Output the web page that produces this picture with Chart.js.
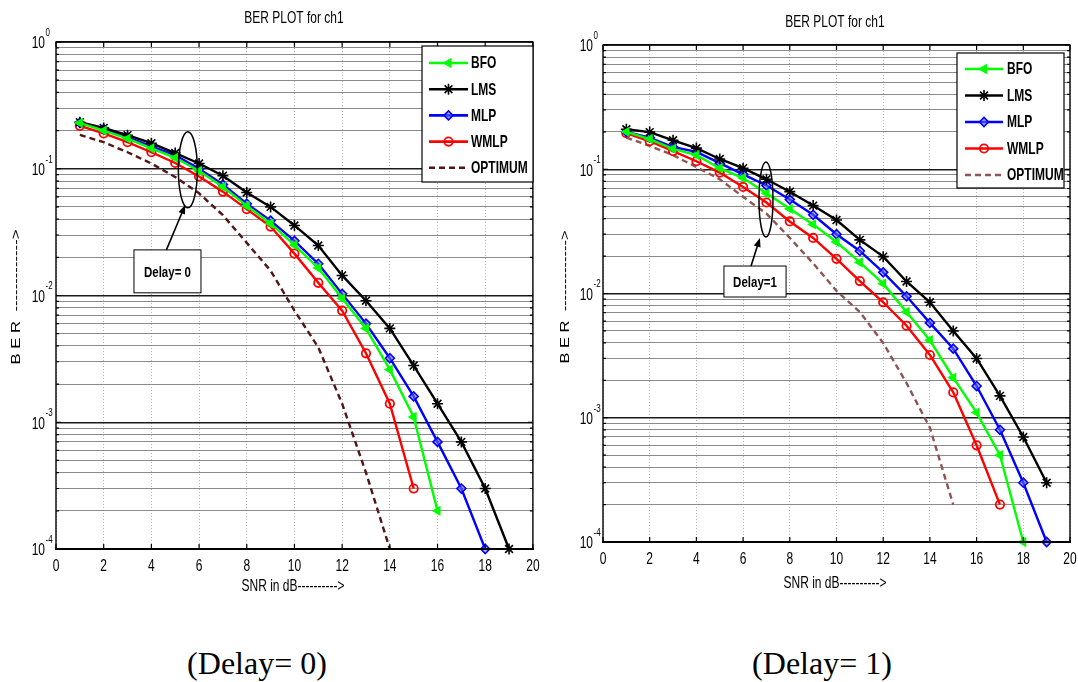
<!DOCTYPE html>
<html><head><meta charset="utf-8">
<script src="https://cdn.jsdelivr.net/npm/chart.js@4/dist/chart.umd.min.js"></script>
<style>
body{margin:0;background:#fff;width:1078px;height:682px;overflow:hidden;position:relative}
canvas{position:absolute;top:0}
#c0{left:0}
#c1{left:540px}
.cap{position:absolute;top:643px;width:300px;text-align:center;font:32px "Liberation Serif","Times New Roman",serif;line-height:40px;color:#000}
</style></head>
<body>
<canvas id="c0" width="540" height="620"></canvas>
<canvas id="c1" width="538" height="620"></canvas>
<div class="cap" style="left:107px">(Delay= 0)</div>
<div class="cap" style="left:672px">(Delay= 1)</div>
<script>
// ---------------- data ----------------
const snr = [1,2,3,4,5,6,7,8,9,10,11,12,13,14,15,16,17,18,19];
const xTickValues = [0,2,4,6,8,10,12,14,16,18,20];
const yDecades = [1,0.1,0.01,0.001,0.0001];
const yDecadeExp = ['0','-1','-2','-3','-4'];
const seriesNames = ['BFO','LMS','MLP','WMLP','OPTIMUM'];
const titleText = 'BER PLOT for ch1';
const xTitle = 'SNR in dB---------->';
const yTitle = 'B E R  ------------->';

// Delay = 0
const bfo0  = [0.23,0.20,0.173,0.145,0.122,0.096,0.072,0.051,0.037,0.025,0.0165,0.0095,0.0055,0.0026,0.0011,0.0002];
const lms0  = [0.233,0.21,0.184,0.159,0.133,0.110,0.088,0.065,0.050,0.0357,0.0248,0.0144,0.0091,0.0055,0.0028,0.0014,0.0007,0.0003,0.0001];
const mlp0  = [0.23,0.205,0.178,0.15,0.128,0.1,0.075,0.053,0.039,0.027,0.0178,0.0103,0.006,0.0032,0.0016,0.0007,0.0003,0.0001];
const wmlp0 = [0.218,0.19,0.162,0.135,0.111,0.087,0.066,0.048,0.035,0.0214,0.0126,0.0076,0.0035,0.0014,0.0003];
const opt0  = [0.185,0.162,0.135,0.11,0.086,0.064,0.043,0.026,0.0157,0.0076,0.0039,0.0014,0.0004,0.0001];

// Delay = 1
const bfo1  = [0.2,0.175,0.146,0.13,0.102,0.085,0.064,0.048,0.036,0.026,0.0178,0.012,0.0071,0.0042,0.0021,0.0011,0.0005,0.0001];
const lms1  = [0.21,0.199,0.171,0.148,0.121,0.102,0.083,0.066,0.051,0.039,0.027,0.0198,0.0125,0.0085,0.005,0.003,0.0015,0.0007,0.0003];
const mlp1  = [0.2,0.18,0.151,0.138,0.112,0.091,0.074,0.057,0.043,0.030,0.022,0.0148,0.0095,0.0058,0.0036,0.0018,0.0008,0.0003,0.0001];
const wmlp1 = [0.195,0.168,0.14,0.116,0.094,0.072,0.054,0.038,0.028,0.019,0.0126,0.0085,0.0055,0.0032,0.0016,0.0006,0.0002];
const opt1  = [0.18,0.154,0.13,0.104,0.083,0.06,0.044,0.028,0.0175,0.0105,0.0071,0.004,0.0019,0.00083,0.0002];

// ---------------- styling / layout ----------------
const FONT = '"Liberation Sans", Arial, Helvetica, sans-serif';
const SY = 1.35;

function pts(arr){ return arr.map((v,i)=>({x:snr[i], y:v})); }

function makeDatasets(vals, optColor){
  const styles = [
    {c:'#00ff00', ps:'triangle', rot:270, r:4.5, bg:'#00ff00', bw:1.5},
    {c:'#000000', ps:'star', rot:0, r:5.5, bg:'#000000', bw:1.6},
    {c:'#0000ff', ps:'rectRot', rot:0, r:4.5, bg:'rgba(110,110,255,0.55)', bw:1.6},
    {c:'#ff0000', ps:'circle', rot:0, r:4.2, bg:'rgba(255,255,255,0)', bw:1.8},
    {c:optColor, ps:false, rot:0, r:0, bg:optColor, bw:0, dash:[6,4]}
  ];
  return vals.map((arr,i)=>{
    const s = styles[i];
    return {
      label: seriesNames[i], data: pts(arr),
      borderColor: s.c, backgroundColor: s.bg, borderWidth: 2.4,
      borderDash: s.dash || [], tension: 0, fill: false, clip: false,
      pointStyle: s.ps, pointRotation: s.rot, pointRadius: s.r,
      pointBorderColor: s.c, pointBackgroundColor: s.bg, pointBorderWidth: s.bw
    };
  });
}

function isMajor(v){ const l = Math.log10(v); return Math.abs(l - Math.round(l)) < 1e-6; }

function txt(ctx, s, x, y, o){
  ctx.save();
  ctx.font = o.font; ctx.fillStyle = o.color || '#000';
  ctx.textAlign = o.align || 'center'; ctx.textBaseline = o.base || 'middle';
  ctx.translate(x, y);
  if (o.rot) ctx.rotate(o.rot);
  ctx.scale(o.sx || 1, o.sy || 1);
  ctx.fillText(s, 0, 0);
  ctx.restore();
}

const decoPlugin = {
  id: 'deco',
  afterDraw(chart){
    const L = chart.options.plugins.deco;
    const ctx = chart.ctx, a = chart.chartArea;
    const xs = chart.scales.x, ys = chart.scales.y;
    ctx.save();
    // axis box and inward ticks
    ctx.strokeStyle = '#000'; ctx.lineWidth = 1.4;
    ctx.strokeRect(a.left, a.top, a.right - a.left, a.bottom - a.top);
    ctx.lineWidth = 2.2;
    ctx.beginPath(); ctx.moveTo(a.left - 1, a.bottom); ctx.lineTo(a.right + 1, a.bottom); ctx.stroke();
    ctx.lineWidth = 1.2;
    ctx.beginPath();
    xTickValues.forEach(v=>{
      const px = xs.getPixelForValue(v);
      ctx.moveTo(px, a.bottom); ctx.lineTo(px, a.bottom - 5);
      ctx.moveTo(px, a.top); ctx.lineTo(px, a.top + 5);
    });
    yDecades.forEach(d=>{
      for (let k=1;k<=9;k++){
        const v = d*k; if (v>1.0000001) continue;
        const py = ys.getPixelForValue(v), len = k===1 ? 5 : 3;
        ctx.moveTo(a.left, py); ctx.lineTo(a.left + len, py);
        ctx.moveTo(a.right, py); ctx.lineTo(a.right - len, py);
      }
    });
    ctx.stroke();

    // title, axis titles
    txt(ctx, titleText, L.title[0], L.title[1], {font:'12px '+FONT, sy:SY});
    txt(ctx, xTitle, L.xlab[0], L.xlab[1], {font:'12px '+FONT, sy:SY});
    ctx.save(); ctx.font = '12px '+FONT;
    const yw = ctx.measureText(yTitle).width; ctx.restore();
    txt(ctx, yTitle, L.ylab[0], L.ylab[1], {font:'12px '+FONT, rot:-Math.PI/2, sx:L.ylabLen/yw});

    // x tick labels
    xTickValues.forEach(v=>{
      txt(ctx, String(v), xs.getPixelForValue(v), L.xtickY, {font:'12px '+FONT, sy:SY});
    });
    // y tick labels 10^n
    yDecades.forEach((d,i)=>{
      const py = ys.getPixelForValue(d);
      txt(ctx, '10', L.ytickR, py + 2, {font:'12px '+FONT, sy:SY, align:'right'});
      txt(ctx, yDecadeExp[i], L.ytickR + 0.5, py - 9, {font:'8px '+FONT, sy:1.3, align:'left'});
    });

    // legend
    const g = L.leg;
    ctx.fillStyle = '#fff'; ctx.fillRect(g.x0, g.y0, g.x1-g.x0, g.y1-g.y0);
    ctx.strokeStyle = '#000'; ctx.lineWidth = 1.2; ctx.strokeRect(g.x0, g.y0, g.x1-g.x0, g.y1-g.y0);
    chart.data.datasets.forEach((ds,i)=>{
      const y = g.ey0 + i*g.edy;
      ctx.save();
      ctx.strokeStyle = ds.borderColor; ctx.lineWidth = 2.6;
      ctx.setLineDash(ds.borderDash || []);
      ctx.beginPath(); ctx.moveTo(g.lx0, y); ctx.lineTo(g.lx1, y); ctx.stroke();
      ctx.setLineDash([]);
      if (ds.pointStyle){
        ctx.strokeStyle = ds.pointBorderColor; ctx.fillStyle = ds.pointBackgroundColor;
        ctx.lineWidth = ds.pointBorderWidth;
        Chart.helpers.drawPoint(ctx, {pointStyle: ds.pointStyle, rotation: ds.pointRotation, radius: ds.pointRadius, borderWidth: ds.pointBorderWidth}, (g.lx0+g.lx1)/2, y);
      }
      ctx.restore();
      txt(ctx, ds.label, g.tx, y + 1, {font:'bold 12px '+FONT, sy:SY, align:'left'});
    });

    // annotation: ellipse, arrow, text box
    const n = L.ann;
    ctx.strokeStyle = '#000'; ctx.lineWidth = 1.5;
    ctx.beginPath();
    ctx.ellipse(xs.getPixelForValue(n.ell[0]), ys.getPixelForValue(n.ell[1]), n.ell[2], n.ell[3], 0, 0, Math.PI*2);
    ctx.stroke();
    const bx0 = xs.getPixelForValue(n.box[0]), bx1 = xs.getPixelForValue(n.box[1]);
    const by0 = ys.getPixelForValue(n.box[2]), by1 = ys.getPixelForValue(n.box[3]);
    ctx.fillStyle = '#fff'; ctx.fillRect(bx0, by0, bx1-bx0, by1-by0);
    ctx.lineWidth = 1; ctx.strokeRect(bx0, by0, bx1-bx0, by1-by0);
    txt(ctx, n.text, (bx0+bx1)/2, (by0+by1)/2 + 1, {font:'bold 11.5px '+FONT, sy:SY});
    const tx0 = xs.getPixelForValue(n.arrow[0]), ty0 = ys.getPixelForValue(n.arrow[1]);
    const tx1 = xs.getPixelForValue(n.arrow[2]), ty1 = ys.getPixelForValue(n.arrow[3]);
    const ang = Math.atan2(ty1-ty0, tx1-tx0);
    ctx.lineWidth = 1.6;
    ctx.beginPath(); ctx.moveTo(tx0, ty0); ctx.lineTo(tx1 - 6*Math.cos(ang), ty1 - 6*Math.sin(ang)); ctx.stroke();
    ctx.fillStyle = '#000';
    ctx.beginPath();
    ctx.moveTo(tx1, ty1);
    ctx.lineTo(tx1 - 9*Math.cos(ang) + 3.5*Math.sin(ang), ty1 - 9*Math.sin(ang) - 3.5*Math.cos(ang));
    ctx.lineTo(tx1 - 9*Math.cos(ang) - 3.5*Math.sin(ang), ty1 - 9*Math.sin(ang) + 3.5*Math.cos(ang));
    ctx.closePath(); ctx.fill();
    ctx.restore();
  }
};

function makeChart(id, vals, optColor, L){
  return new Chart(document.getElementById(id), {
    type: 'line',
    data: { datasets: makeDatasets(vals, optColor) },
    plugins: [decoPlugin],
    options: {
      responsive: false, animation: false, devicePixelRatio: 1,
      layout: { padding: { top: L.top, right: L.right, left: 0, bottom: 0 } },
      plugins: { legend: {display:false}, title: {display:false}, tooltip: {enabled:false}, deco: L },
      scales: {
        x: {
          type: 'linear', min: 0, max: 20,
          afterBuildTicks: s => { s.ticks = xTickValues.map(v=>({value:v})); },
          afterFit: s => { s.height = L.xh; },
          ticks: { display: false },
          grid: { color: '#b8b8b8', lineWidth: 1, drawTicks: false },
          border: { display: false, dash: [1,2] }
        },
        y: {
          type: 'logarithmic', min: 1e-4, max: 1,
          afterBuildTicks: s => {
            const t = [];
            yDecades.forEach(d=>{ for (let k=1;k<=9;k++){ const v=d*k; if (v<=1.0000001) t.push({value:v}); } });
            s.ticks = t;
          },
          afterFit: s => { s.width = L.yw; },
          ticks: { display: false },
          grid: {
            color: c => (c.tick && isMajor(c.tick.value)) ? '#1a1a1a' : '#8a8a8a',
            lineWidth: c => (c.tick && isMajor(c.tick.value)) ? 1.4 : 1,
            drawTicks: false
          },
          border: { display: false }
        }
      }
    }
  });
}

const L0 = {
  yw:56, xh:71, top:42, right:7,
  title:[294,19], xlab:[293,587], ylab:[17,297], ylabLen:135, xtickY:567, ytickR:45,
  leg:{x0:422, x1:533, y0:46, y1:182, lx0:429, lx1:468, tx:471, ey0:63, edy:26.2},
  ann:{ell:[5.53,0.098,9.5,38], box:[3.27,6.08,0.0229,0.0105], text:'Delay= 0', arrow:[4.63,0.0229,5.42,0.0518]}
};
const L1 = {
  yw:63, xh:78, top:45, right:8,
  title:[295,23], xlab:[295,584], ylab:[26,297], ylabLen:133, xtickY:560, ytickR:53,
  leg:{x0:417, x1:524, y0:53, y1:188, lx0:425, lx1:463, tx:467, ey0:69, edy:26.5},
  ann:{ell:[6.98,0.0571,7,37.5], box:[5.18,7.84,0.01664,0.00937], text:'Delay=1', arrow:[6.34,0.01664,6.72,0.028]}
};

makeChart('c0', [bfo0,lms0,mlp0,wmlp0,opt0], '#521414', L0);
makeChart('c1', [bfo1,lms1,mlp1,wmlp1,opt1], '#8f5454', L1);
</script>
</body></html>
